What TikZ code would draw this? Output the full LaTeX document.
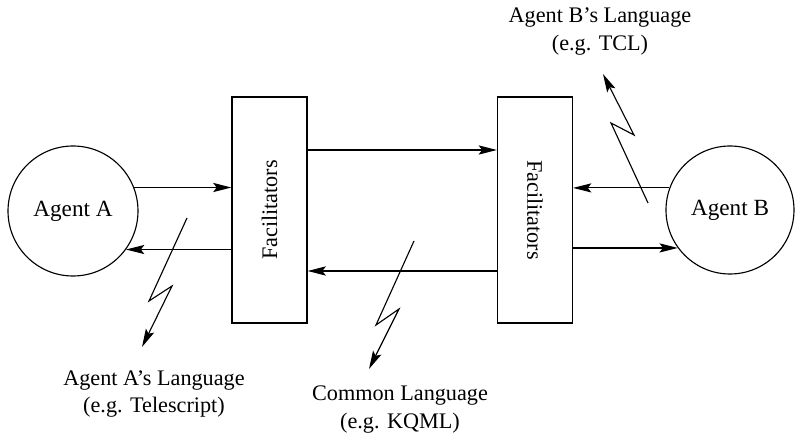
\documentclass[tikz,border=0pt]{standalone}
\usepackage{fontspec}
\setmainfont{Liberation Serif}
\usepackage{tikz}
\usetikzlibrary{arrows.meta}

\begin{document}
\begin{tikzpicture}[
    font=\fontsize{15.8}{19.9}\selectfont,
    line width=0.8pt,
    flow/.style={-{Stealth[length=13pt,width=6.5pt,inset=2.5pt]}},
    agent/.style={draw, circle, minimum size=3.25cm, inner sep=0pt},
    facil/.style={draw, rectangle, minimum width=1.875cm, minimum height=5.65cm, inner sep=0pt},
    lang/.style={align=center}
  ]
    \useasboundingbox (0,0) rectangle (19.875,10.875);

    % Draw agents and facilitators
    \node[agent, font=\fontsize{16.5}{19.9}\selectfont] (agentA) at (1.825,5.6) {Agent A};
    \node[agent, font=\fontsize{16.5}{19.9}\selectfont, minimum size=3.2cm] (agentB) at (18.25,5.625) {Agent B};
    \node[facil] (facA) at (6.7375,5.625) {\rotatebox{90}{Facilitators}};
    \node[facil] (facB) at (13.375,5.625) {\rotatebox{-90}{Facilitators}};

    % Draw messages between agent A and its facilitator
    \draw[flow] (agentA.21) -- (agentA.21 -| facA.west);
    \draw[flow] (agentA.-36 -| facA.west) -- (agentA.-36);

    % Draw messages between the facilitators
    \draw[flow] ([yshift=1.5cm]facA.east) -- ([yshift=1.5cm]facA.east -| facB.west);
    \draw[flow] ([yshift=-1.525cm]facB.west) -- ([yshift=-1.525cm]facB.west -| facA.east);

    % Draw messages between agent B and its facilitator
    \draw[flow] (agentB.160) -- (agentB.160 -| facB.east);
    \draw[flow] (agentB.216 -| facB.east) -- (agentB.216);

    % Label the languages
    \node[lang] (langA) at (3.85,1.025) {Agent A's Language\\(e.g. Telescript)};
    \node[lang] (langC) at (10.0,0.625) {Common Language\\(e.g. KQML)};
    \node[lang] (langB) at (15.0,10.075) {Agent B's Language\\(e.g. TCL)};

    % Draw lightning arrows
    \coordinate (boltA) at (4.675,5.425);
    \coordinate (tipA) at (3.55,2.2);
    \draw[flow] (boltA) -- (3.725,3.35) -- (4.3,3.725) -- (tipA);
    \coordinate (boltC) at (10.35,4.85);
    \coordinate (tipC) at (9.225,1.65);
    \draw[flow] (boltC) -- (9.4,2.75) -- (9.975,3.15) -- (tipC);
    \coordinate (boltB) at (16.2,5.8);
    \coordinate (tipB) at (15.075,9.025);
    \draw[flow] (boltB) -- (15.275,7.8) -- (15.85,7.5) -- (tipB);
  \end{tikzpicture}
\end{document}
